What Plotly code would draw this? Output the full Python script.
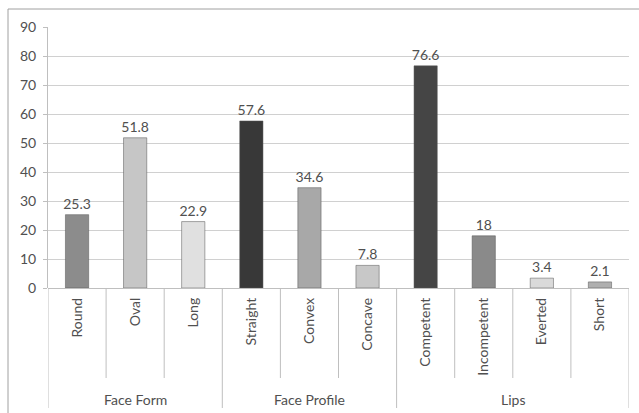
import plotly.graph_objects as go

categories = ["Round", "Oval", "Long", "Straight", "Convex", "Concave",
              "Competent", "Incompetent", "Everted", "Short"]
values = [25.3, 51.8, 22.9, 57.6, 34.6, 7.8, 76.6, 18, 3.4, 2.1]
value_labels = ["25.3", "51.8", "22.9", "57.6", "34.6", "7.8", "76.6", "18", "3.4", "2.1"]
groups = ["Face Form", "Face Profile", "Lips"]
group_sizes = [3, 3, 4]
bar_colors = ["#8c8c8c", "#c6c6c6", "#e0e0e0", "#383838", "#a8a8a8", "#c8c8c8",
              "#454545", "#8a8a8a", "#dadada", "#afafaf"]

FONT = "Lato, 'Open Sans', sans-serif"
W, H = 639, 413
L, R, T, B = 48, 10, 27, 125
pw, ph = W - L - R, H - T - B

x = list(range(len(categories)))
fig = go.Figure()
fig.add_trace(go.Bar(
    x=x, y=values, width=0.4,
    marker=dict(color=bar_colors, line=dict(color="#555555", width=0.5)),
    text=value_labels, textposition="outside", cliponaxis=False,
    constraintext="none",
    textfont=dict(family=FONT, size=14, color="#505050"),
))

shapes = []
def py(px):
    return (H - B - px) / ph

bounds = [-0.5]
for s in group_sizes:
    bounds.append(bounds[-1] + s)
for i in range(len(categories) + 1):
    xb = i - 0.5
    long_ = xb in bounds
    shapes.append(dict(type="line", xref="x", yref="paper", x0=xb, x1=xb,
                       y0=0, y1=py(408 if long_ else 378),
                       line=dict(color="#bfbfbf", width=1)))

fx = (8 - L) / pw
fy = py(9)
shapes.append(dict(type="line", xref="paper", yref="paper", x0=fx, x1=fx, y0=fy, y1=py(H),
                   line=dict(color="#a0a0a0", width=1)))
shapes.append(dict(type="line", xref="paper", yref="paper", x0=fx, x1=(W - L) / pw, y0=fy, y1=fy,
                   line=dict(color="#a0a0a0", width=1)))

annotations = []
start = 0
for g, s in zip(groups, group_sizes):
    cx = start + (s - 1) / 2
    annotations.append(dict(x=cx, xref="x", y=py(399), yref="paper", text=g,
                            showarrow=False, yanchor="middle",
                            font=dict(family=FONT, size=14, color="#505050")))
    start += s

fig.update_layout(
    width=W, height=H, margin=dict(l=L, r=R, t=T, b=B),
    paper_bgcolor="white", plot_bgcolor="white",
    showlegend=False, shapes=shapes, annotations=annotations,
    xaxis=dict(range=[-0.5, len(categories) - 0.5], tickvals=x, ticktext=categories,
               tickangle=-90, showgrid=False, zeroline=False, ticks="",
               showline=False, ticklabelstandoff=6,
               tickfont=dict(family=FONT, size=14, color="#505050")),
    yaxis=dict(range=[0, 90], dtick=10, showgrid=True, gridcolor="#d0d0d0", gridwidth=1,
               zeroline=True, zerolinecolor="#bfbfbf", zerolinewidth=1,
               showline=True, linecolor="#bfbfbf", linewidth=1,
               ticks="outside", ticklen=4, tickcolor="#bfbfbf",
               ticklabelstandoff=4,
               tickfont=dict(family=FONT, size=14, color="#505050")),
)
fig.write_html("out.html")
